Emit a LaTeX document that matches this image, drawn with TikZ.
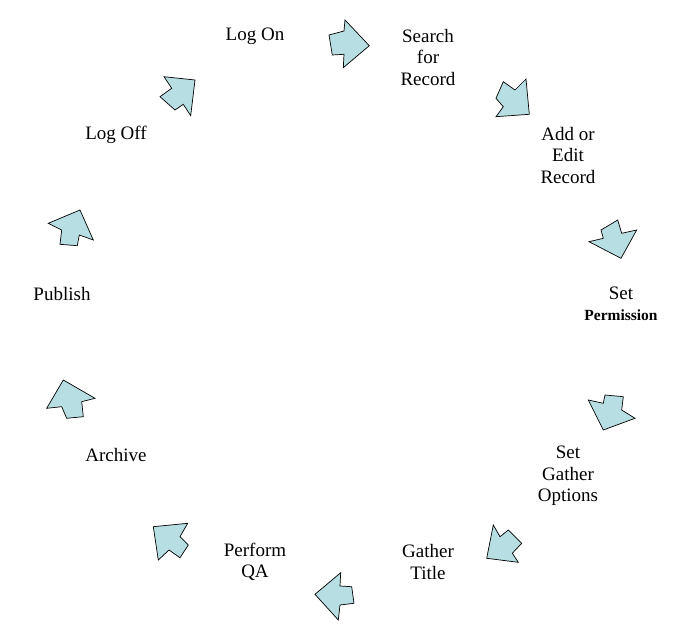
\documentclass[tikz,border=0pt]{standalone}
\usepackage{fontspec}
\setmainfont{Liberation Serif}
\newfontfamily\tnr{Liberation Serif}
\definecolor{arrowfill}{RGB}{183,222,226}
\begin{document}
\begin{tikzpicture}[x=1pt,y=-1pt,
  lbl/.style={align=center,font=\tnr\fontsize{19}{21.5}\selectfont,inner sep=0pt},
  blockarrow/.style={fill=arrowfill,draw=black,line width=0.7pt,line join=miter}]
\useasboundingbox (0,0) rectangle (689,642);
% labels
\node[lbl] (logon) at (255,36.5) {Log On};
\node[lbl] (search) at (428,57.5) {Search\\for\\Record};
\node[lbl] (add) at (568,155.5) {Add or\\Edit\\Record};
\node[lbl] (setperm) at (621,304) {Set\\{\tnr\fontsize{15.5}{21.5}\selectfont\bfseries Permission}};
\node[lbl] (gatheropt) at (568,476) {Set\\Gather\\Options};
\node[lbl] (gathertitle) at (428,562) {Gather\\Title};
\node[lbl] (qa) at (255,562) {Perform\\QA};
\node[lbl] (archive) at (116,454.5) {Archive};
\node[lbl] (publish) at (62,294.5) {Publish};
\node[lbl] (logoff) at (116,134.5) {Log Off};
% block arrows
\path[blockarrow] (329,35) -- (344,31) -- (345,20) -- (369.3,45.7) -- (343.3,67.7) -- (344,54.3) -- (332.3,55) -- cycle;
\path[blockarrow] (503.3,81.7) -- (515,90) -- (526,79) -- (529.3,114.3) -- (496,116.7) -- (503.3,106.7) -- (496,98.3) -- cycle;
\path[blockarrow] (617.7,220) -- (621.7,233.3) -- (636.7,230) -- (621,258.3) -- (589,241.7) -- (603.3,238.3) -- (601,230) -- cycle;
\path[blockarrow] (588.3,400) -- (603.3,403.3) -- (605,395) -- (623.3,396.7) -- (621.7,410) -- (635,418.3) -- (603.3,430) -- cycle;
\path[blockarrow] (493.3,525) -- (500,536.7) -- (508.3,530) -- (521.7,543.3) -- (512.3,553.3) -- (518.3,562.3) -- (486.7,558.3) -- cycle;
\path[blockarrow] (340.7,572.7) -- (340,586) -- (351.7,586.7) -- (354,603.3) -- (340,605) -- (338.3,620) -- (315,594.3) -- cycle;
\path[blockarrow] (153.3,526.7) -- (187.7,523.3) -- (180,536.7) -- (188.3,545) -- (180,557.7) -- (169,550) -- (158.3,560) -- cycle;
\path[blockarrow] (63.3,380) -- (95,398.3) -- (81.7,401.7) -- (83.3,416.7) -- (66.7,418.3) -- (61.7,406.7) -- (46.7,408.3) -- cycle;
\path[blockarrow] (48.3,223.3) -- (80,210) -- (93.3,240) -- (79.3,235) -- (77.3,245.7) -- (60,244.3) -- (61.7,230) -- cycle;
\path[blockarrow] (164,76.7) -- (195,80) -- (190.7,115.7) -- (183.3,104.3) -- (175,110) -- (160,96.7) -- (171.7,88.3) -- cycle;
\end{tikzpicture}
\end{document}
